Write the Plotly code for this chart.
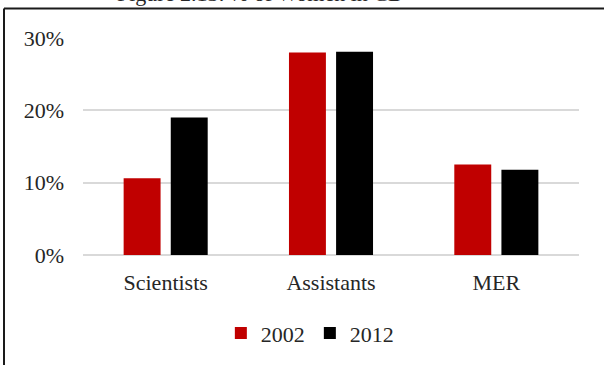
import plotly.graph_objects as go

# Share of women by staff category, two survey years
categories = ["Scientists", "Assistants", "MER"]
share_2002 = [0.106, 0.280, 0.125]
share_2012 = [0.190, 0.281, 0.118]
y_ticks = [0, 0.1, 0.2, 0.3]
y_tick_text = ["0%", "10%", "20%", "30%"]

W, H = 604, 365
L, R, T, B = 83, 25, 38, 110
plot_w = W - L - R
plot_h = H - T - B


def px_x(px):
    return (px - L) / plot_w


def px_y(py):
    return (H - B - py) / plot_h


FONT = "Liberation Serif"

fig = go.Figure()
fig.add_trace(go.Bar(name="2002", x=categories, y=share_2002,
                     marker=dict(color="#C00000", line=dict(width=0))))
fig.add_trace(go.Bar(name="2012", x=categories, y=share_2012,
                     marker=dict(color="#000000", line=dict(width=0))))

fig.update_layout(
    width=W, height=H,
    margin=dict(l=L, r=R, t=T, b=B),
    paper_bgcolor="white", plot_bgcolor="white",
    barmode="group", bargap=0.43, bargroupgap=0.216,
    font=dict(family=FONT, size=22, color="#262626"),
    showlegend=True,
    legend=dict(orientation="h", xref="container", x=0.513, xanchor="center",
                yref="container", y=0.087, yanchor="middle",
                font=dict(family=FONT, size=22, color="#262626"),
                itemwidth=30, tracegroupgap=0),
    xaxis=dict(showgrid=False, showline=False, ticks="", ticklabelstandoff=12,
               tickfont=dict(family=FONT, size=22, color="#262626")),
    yaxis=dict(range=[0, 0.3], tickvals=y_ticks, ticktext=y_tick_text,
               showgrid=True, gridcolor="#d9d9d9", gridwidth=1.5,
               zeroline=True, zerolinecolor="#d9d9d9", zerolinewidth=1.5,
               showline=False, ticks="", ticklabelstandoff=18,
               tickfont=dict(family=FONT, size=22, color="#262626")),
)

# Frame around the figure (left and top edges)
fig.add_shape(type="line", xref="paper", yref="paper",
              x0=px_x(4), x1=px_x(4), y0=px_y(8.5), y1=px_y(370),
              line=dict(color="#1a1a1a", width=2))
fig.add_shape(type="line", xref="paper", yref="paper",
              x0=px_x(4), x1=px_x(610), y0=px_y(8.5), y1=px_y(8.5),
              line=dict(color="#1a1a1a", width=2))

# Caption sitting above the frame
fig.add_annotation(text="Figure 2.13: % of Women in CD", xref="paper", yref="paper",
                   x=px_x(260), y=px_y(8), xanchor="center", yanchor="bottom",
                   showarrow=False, font=dict(family=FONT, size=22, color="#262626"))

fig.write_html("out.html")
